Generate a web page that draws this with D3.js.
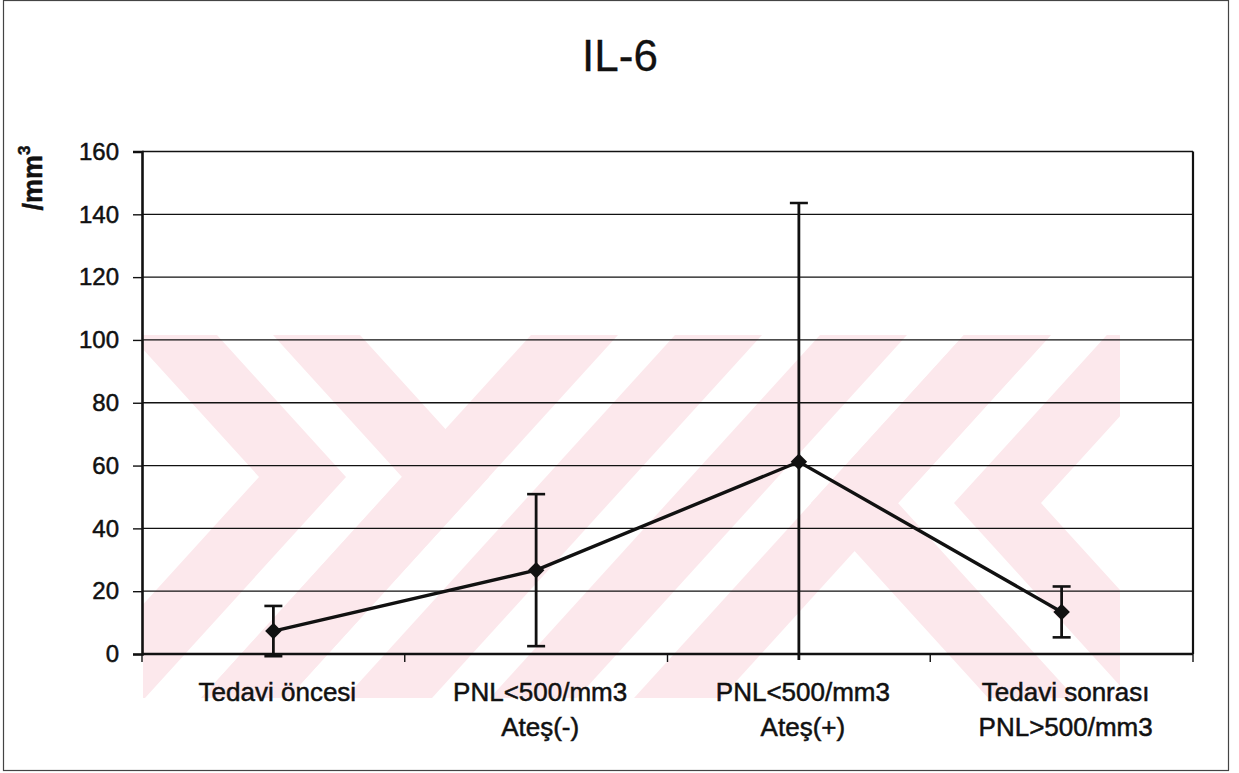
<!DOCTYPE html>
<html>
<head>
<meta charset="utf-8">
<script src="https://cdn.jsdelivr.net/npm/d3@7"></script>
<style>
  body { margin: 0; background: #fff; }
  svg text { font-family: "Liberation Sans", Arial, sans-serif; fill: #111; stroke: #111; stroke-width: 0.5; }
</style>
</head>
<body>
<script>
// data
const categories = ['Tedavi öncesi', 'PNL<500/mm3 Ateş(-)', 'PNL<500/mm3 Ateş(+)', 'Tedavi sonrası PNL>500/mm3'];
const labelLines = [['Tedavi öncesi'], ['PNL<500/mm3', 'Ateş(-)'], ['PNL<500/mm3', 'Ateş(+)'], ['Tedavi sonrası', 'PNL>500/mm3']];
const means = [7.3, 26.7, 61.2, 13.4];
const errors = [8.0, 24.2, 82.4, 8.1];
const yTicks = [0, 20, 40, 60, 80, 100, 120, 140, 160];

// constants
const width = 1239;
const height = 773;
const margin = { left: 142, top: 151.5, right: 46, bottom: 119 };
const plotW = width - margin.left - margin.right;
const plotH = height - margin.top - margin.bottom;
const ink = '#111';
const pink = '#fce8ec';

const svg = d3.select('body')
  .append('svg')
  .attr('width', width)
  .attr('height', height);

// outer frame of the scanned figure
svg.append('rect')
  .attr('x', 3.5).attr('y', 0.5)
  .attr('width', 1225).attr('height', 770)
  .attr('fill', 'none')
  .attr('stroke', '#444')
  .attr('stroke-width', 1.2);

// faint watermark: two nested chevrons on the left, the same turned 180deg
// on the right, and diagonal stripes between them
const wmBox = { x0: 143, x1: 1120, y0: 335, y1: 698 };
const slope = 1.1;
const apexDy = 129;
const yTop = 200;
const yBot = 840;
const off = (yy) => (yy - wmBox.y0) / slope;
const chevron = (pa, pb) => {
  const qa = pa + 2 * apexDy;
  const qb = pb + 2 * apexDy;
  const ay = wmBox.y0 + slope * apexDy;
  return [[pa + off(yTop), yTop], [pb + off(yTop), yTop], [pb + apexDy, ay],
    [qb - off(yBot), yBot], [qa - off(yBot), yBot], [pa + apexDy, ay]];
};
const stripe = (qa, qb) => [[qa - off(yTop), yTop], [qb - off(yTop), yTop],
  [qb - off(yBot), yBot], [qa - off(yBot), yBot]];
const turn = (pts) => pts.map(([px, py]) => [2 * 650 - px, 2 * 490 - py]);
const leftShapes = [chevron(130, 217), chevron(273, 360)];
const wmShapes = leftShapes
  .concat(leftShapes.map(turn))
  .concat([531, 675, 820, 964].map((q) => stripe(q, q + 87)));

svg.append('clipPath').attr('id', 'wmclip')
  .append('rect')
  .attr('x', wmBox.x0).attr('y', wmBox.y0)
  .attr('width', wmBox.x1 - wmBox.x0).attr('height', wmBox.y1 - wmBox.y0);
svg.append('g')
  .attr('clip-path', 'url(#wmclip)')
  .selectAll('path')
  .data(wmShapes)
  .join('path')
  .attr('d', (d) => `M${d.join('L')}Z`)
  .attr('fill', pink);

const g = svg.append('g')
  .attr('transform', `translate(${margin.left},${margin.top})`);

const x = d3.scaleBand()
  .domain(categories)
  .range([0, plotW]);
const y = d3.scaleLinear()
  .domain([0, 160])
  .range([plotH, 0]);

// gridlines
g.append('g')
  .selectAll('line')
  .data(yTicks)
  .join('line')
  .attr('x1', 0).attr('x2', plotW)
  .attr('y1', (d) => y(d)).attr('y2', (d) => y(d))
  .attr('stroke', ink)
  .attr('stroke-width', 1.3);

// right edge of the plot frame
g.append('line').attr('x1', plotW).attr('x2', plotW).attr('y1', 0).attr('y2', plotH)
  .attr('stroke', ink).attr('stroke-width', 2.2);

// y axis
const yAxis = g.append('g')
  .call(d3.axisLeft(y).tickValues(yTicks).tickSize(9).tickPadding(14));
yAxis.select('.domain').attr('stroke', ink).attr('stroke-width', 2.6);
yAxis.selectAll('.tick line').attr('stroke', ink).attr('stroke-width', 1.4);
yAxis.selectAll('.tick text')
  .attr('font-size', 24)
  .attr('fill', ink);

// x axis: ticks sit on the category boundaries
const xBottom = g.append('g').attr('transform', `translate(0,${plotH})`);
xBottom.append('line').attr('x1', 0).attr('x2', plotW)
  .attr('stroke', ink).attr('stroke-width', 2.6);
xBottom.selectAll('.bound')
  .data(categories.map((c) => x(c)).concat([plotW]))
  .join('line')
  .attr('class', 'bound')
  .attr('x1', (d) => d).attr('x2', (d) => d)
  .attr('y1', 0).attr('y2', 8)
  .attr('stroke', ink).attr('stroke-width', 1.4);

const labels = xBottom.selectAll('text')
  .data(categories)
  .join('text')
  .attr('text-anchor', 'middle')
  .attr('font-size', 26)
  .attr('transform', (d) => `translate(${x(d) + x.bandwidth() / 2 + 4},0)`);
labels.selectAll('tspan')
  .data((d, i) => labelLines[i])
  .join('tspan')
  .attr('x', 0)
  .attr('y', (d, i) => 47 + i * 35)
  .text((d) => d);

// error bars (clipped a little below the axis, like the original)
svg.append('clipPath').attr('id', 'plotclip')
  .append('rect').attr('x', -10).attr('y', -10).attr('width', plotW + 20).attr('height', plotH + 16);
const cx = (c) => x(c) + x.bandwidth() / 2;
const errG = g.append('g').attr('clip-path', 'url(#plotclip)');
const errs = errG.selectAll('g')
  .data(categories)
  .join('g');
errs.append('line')
  .attr('x1', (d) => cx(d)).attr('x2', (d) => cx(d))
  .attr('y1', (d, i) => y(means[i] + errors[i]))
  .attr('y2', (d, i) => y(means[i] - errors[i]))
  .attr('stroke', ink).attr('stroke-width', 2.8);
errs.selectAll('.cap')
  .data((d, i) => [means[i] + errors[i], means[i] - errors[i]].map((v) => ({ c: d, v })))
  .join('line')
  .attr('class', 'cap')
  .attr('x1', (d) => cx(d.c) - 9).attr('x2', (d) => cx(d.c) + 9)
  .attr('y1', (d) => y(d.v)).attr('y2', (d) => y(d.v))
  .attr('stroke', ink).attr('stroke-width', 2.6);

// mean line + diamond markers
g.append('path')
  .datum(categories)
  .attr('d', d3.line().x((d) => cx(d)).y((d, i) => y(means[i])))
  .attr('fill', 'none')
  .attr('stroke', ink)
  .attr('stroke-width', 3.4);
g.selectAll('.marker')
  .data(categories)
  .join('path')
  .attr('class', 'marker')
  .attr('d', d3.symbol(d3.symbolSquare, 136))
  .attr('transform', (d, i) => `translate(${cx(d)},${y(means[i])}) rotate(45)`)
  .attr('fill', ink);

// title
svg.append('text')
  .attr('x', 620).attr('y', 71)
  .attr('text-anchor', 'middle')
  .attr('font-size', 44)
  .style('stroke-width', 0.3)
  .text('IL-6');

// y-axis title
const yt = svg.append('text')
  .attr('transform', 'translate(42,178) rotate(-90)')
  .attr('text-anchor', 'middle')
  .attr('font-size', 27)
  .attr('font-weight', 'bold');
yt.append('tspan').text('/mm');
yt.append('tspan').attr('font-size', 17).attr('dy', -12).text('3');
</script>
</body>
</html>
